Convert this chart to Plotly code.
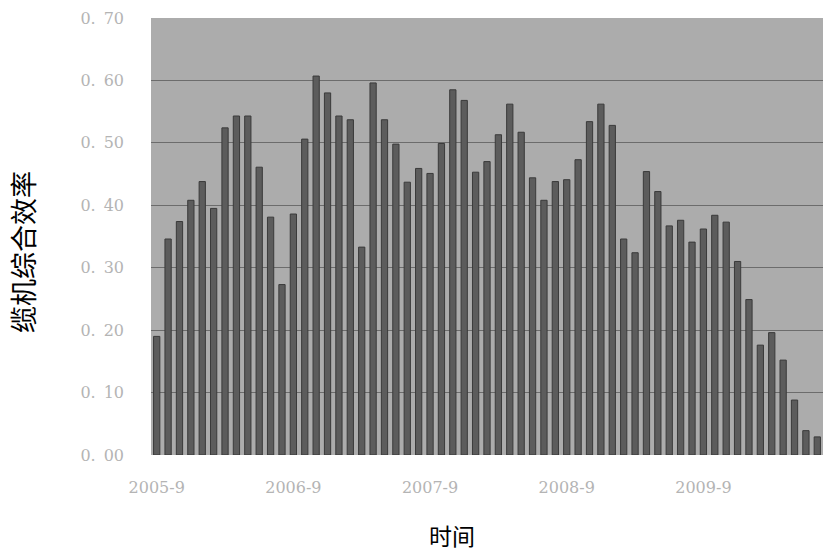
import plotly.graph_objects as go

# Monthly labels, 2005-9 through 2010-7
months = []
y, m = 2005, 9
for _ in range(59):
    months.append(f"{y}-{m}")
    m += 1
    if m > 12:
        m, y = 1, y + 1

# Combined efficiency of the cable cranes, per month
efficiency = [
    0.190, 0.346, 0.374, 0.408, 0.438, 0.395, 0.524, 0.543, 0.543, 0.461,
    0.381, 0.273, 0.386, 0.506, 0.607, 0.580, 0.543, 0.537, 0.333, 0.596,
    0.537, 0.498, 0.437, 0.459, 0.451, 0.499, 0.585, 0.568, 0.453, 0.470,
    0.513, 0.562, 0.517, 0.444, 0.408, 0.438, 0.441, 0.473, 0.534, 0.562,
    0.528, 0.346, 0.324, 0.454, 0.422, 0.367, 0.376, 0.341, 0.362, 0.384,
    0.373, 0.310, 0.249, 0.176, 0.196, 0.152, 0.088, 0.039, 0.029,
]

x_ticks = ["2005-9", "2006-9", "2007-9", "2008-9", "2009-9"]
y_ticks = [0.0, 0.1, 0.2, 0.3, 0.4, 0.5, 0.6, 0.7]
y_ticktext = [f"{v:.2f}".replace(".", ".\u2002") for v in y_ticks]

fig = go.Figure(
    go.Bar(
        x=months,
        y=efficiency,
        marker=dict(color="#5c5c5c", line=dict(color="#3a3a3a", width=1)),
        width=0.55,
    )
)

tick_font = dict(family="DejaVu Serif, Liberation Serif, serif", size=16, color="#b4b4b4")

L, R, T, B = 151, 823, 18, 455  # plot area edges in pixels

fig.update_layout(
    width=823,
    height=555,
    margin=dict(l=L, r=823 - R, t=T, b=555 - B),
    paper_bgcolor="white",
    plot_bgcolor="#acacac",
    showlegend=False,
    xaxis=dict(
        type="category",
        tickvals=x_ticks,
        ticktext=x_ticks,
        tickfont=tick_font,
        showgrid=False,
        ticks="",
        showline=False,
        ticklabelstandoff=21,
    ),
    yaxis=dict(
        range=[0, 0.7],
        tickvals=y_ticks,
        ticktext=y_ticktext,
        tickfont=tick_font,
        showgrid=True,
        gridcolor="#6c6c6c",
        gridwidth=1,
        zeroline=False,
        ticks="",
        showline=False,
        ticklabelstandoff=26,
    ),
    annotations=[
        dict(
            text="时间",
            xref="paper", yref="paper",
            x=(452 - L) / (R - L), y=-(535 - B) / (B - T),
            xanchor="center", yanchor="middle",
            showarrow=False,
            font=dict(family="Noto Sans CJK SC", size=23, color="black"),
        ),
        dict(
            text="缆机综合效率",
            xref="paper", yref="paper",
            x=-(L - 22) / (R - L), y=(B - 252) / (B - T),
            xanchor="center", yanchor="middle",
            textangle=-90,
            showarrow=False,
            font=dict(family="Noto Sans CJK SC", size=27, color="black"),
        ),
    ],
)

fig.write_html("out.html")
